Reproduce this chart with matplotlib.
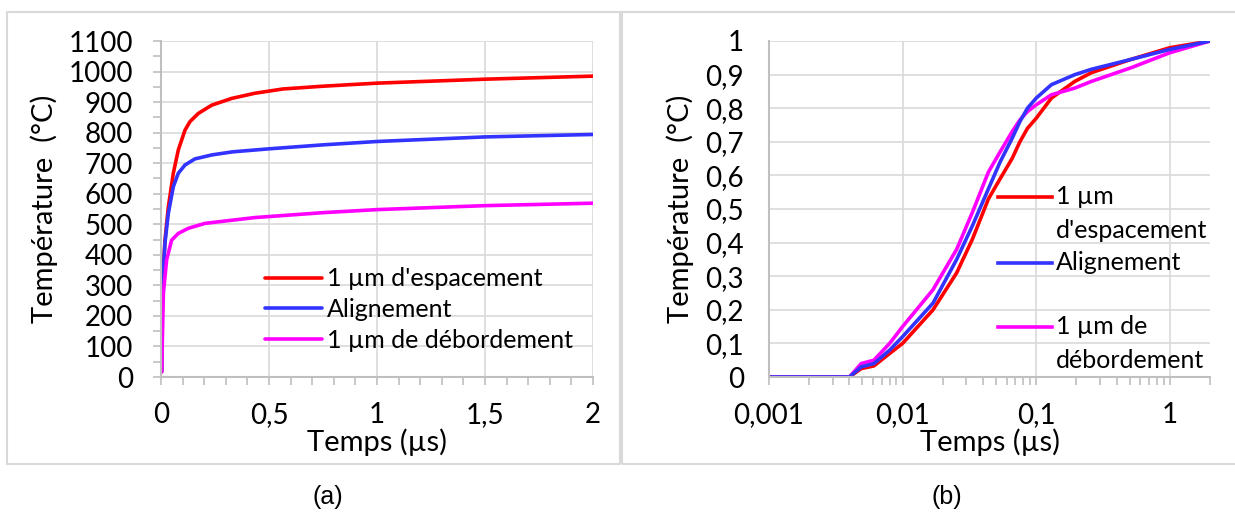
import matplotlib
matplotlib.use("Agg")
import matplotlib.pyplot as plt
from matplotlib.ticker import FuncFormatter, MultipleLocator, LogLocator, FixedLocator
from matplotlib.patches import Rectangle
from matplotlib.lines import Line2D

plt.rcParams['font.family'] = ['Lato', 'DejaVu Sans']

# ---- data (a): linear time (µs), temperature (degC) ----
t_red_a = [0.003, 0.006, 0.0185, 0.034, 0.057, 0.08, 0.111, 0.134, 0.173, 0.235, 0.327, 0.435,
           0.565, 0.75, 1.0, 1.5, 2.0]
red_a = [17, 296, 448, 557, 667, 743, 808, 836, 863, 890, 912, 929, 943, 952, 962, 975, 985]
t_blue_a = [0.003, 0.006, 0.0185, 0.034, 0.057, 0.08, 0.111, 0.157, 0.235, 0.33, 0.5, 0.75, 1.0, 1.5, 2.0]
blue_a = [17, 290, 440, 536, 623, 667, 694, 714, 727, 737, 747, 760, 771, 786, 794]
t_mag_a = [0.003, 0.011, 0.026, 0.049, 0.08, 0.127, 0.204, 0.435, 0.75, 1.0, 1.5, 2.0]
mag_a = [17, 274, 383, 448, 470, 487, 503, 522, 538, 548, 561, 569]

# ---- data (b): log time (µs), normalised temperature ----
t_b = [0.001, 0.004, 0.0049, 0.0061, 0.008, 0.01, 0.0169, 0.0254, 0.0333, 0.0439, 0.0537,
       0.066, 0.0755, 0.086, 0.1, 0.13, 0.195, 0.26, 0.51, 1.0, 2.0]
red_b = [0, 0, 0.025, 0.033, 0.07, 0.10, 0.20, 0.31, 0.41, 0.53, 0.59,
         0.65, 0.70, 0.74, 0.77, 0.83, 0.88, 0.906, 0.945, 0.98, 1.0]
blue_b = [0, 0, 0.03, 0.04, 0.08, 0.12, 0.22, 0.35, 0.45, 0.56, 0.64,
          0.71, 0.76, 0.80, 0.83, 0.87, 0.90, 0.916, 0.945, 0.975, 1.0]
mag_b = [0, 0, 0.04, 0.05, 0.10, 0.15, 0.26, 0.38, 0.49, 0.61, 0.67,
         0.73, 0.765, 0.79, 0.81, 0.84, 0.86, 0.88, 0.92, 0.965, 1.0]

labels = ["1 µm d'espacement", "Alignement", "1 µm de débordement"]
colors = ['#ff0000', '#3333ff', '#ff00ff']

W, H = 1235, 520
fig = plt.figure(figsize=(W / 100, H / 100), dpi=100)


def fx(px):
    return px / W


def fy(py):
    return 1 - py / H


# panel frames
for x0, x1 in [(7, 620), (622, 1240)]:
    fig.patches.append(Rectangle((fx(x0), fy(464)), fx(x1) - fx(x0), fy(12) - fy(464),
                                 transform=fig.transFigure, fill=False,
                                 edgecolor='#d9d9d9', lw=1.5))

grid_c = '#d9d9d9'
spine_c = '#bfbfbf'
comma = FuncFormatter(lambda v, p: ('%g' % v).replace('.', ','))


def style_axes(ax):
    for s in ax.spines.values():
        s.set_visible(False)
    for side in ('left', 'bottom'):
        ax.spines[side].set_visible(True)
        ax.spines[side].set_color(spine_c)
        ax.spines[side].set_linewidth(1.5)
    ax.grid(True, which='major', color=grid_c, lw=1.2)
    ax.set_axisbelow(True)
    ax.tick_params(which='both', colors=spine_c, labelcolor='black', labelsize=20,
                   width=1.2, direction='out', length=6)
    ax.tick_params(axis='x', pad=12)
    ax.tick_params(axis='y', pad=14)


# ---- (a) ----
ax1 = fig.add_axes([fx(161), fy(377), fx(593) - fx(161), fy(41) - fy(377)])
for t, y, c, l in zip([t_red_a, t_blue_a, t_mag_a], [red_a, blue_a, mag_a], colors, labels):
    ax1.plot(t, y, color=c, lw=2.6, label=l, solid_capstyle='round', solid_joinstyle='round')
ax1.set_xlim(0, 2)
ax1.set_ylim(0, 1100)
ax1.xaxis.set_major_locator(MultipleLocator(0.5))
ax1.xaxis.set_minor_locator(MultipleLocator(0.1))
ax1.yaxis.set_major_locator(MultipleLocator(100))
ax1.yaxis.set_minor_locator(MultipleLocator(50))
ax1.xaxis.set_major_formatter(comma)
style_axes(ax1)
ax1.set_xlabel('Temps (µs)', fontsize=21, labelpad=0)
ax1.set_ylabel('Température  (°C)', fontsize=21, labelpad=8)
ax1.legend(loc='lower left', bbox_to_anchor=(fx(252), fy(364)), bbox_transform=fig.transFigure,
           frameon=False, fontsize=18, handlelength=2.3, handletextpad=0.2,
           labelspacing=0.3, borderpad=0)

# ---- (b) ----
ax2 = fig.add_axes([fx(769), fy(377), fx(1210) - fx(769), fy(41) - fy(377)])
# blue drawn last over the flat part
for y, c in zip([red_b, mag_b, blue_b], [colors[0], colors[2], colors[1]]):
    ax2.plot(t_b, y, color=c, lw=2.6, solid_capstyle='round', solid_joinstyle='round')
ax2.set_xscale('log')
ax2.set_xlim(0.001, 2)
ax2.set_ylim(0, 1)
ax2.xaxis.set_major_locator(FixedLocator([0.001, 0.01, 0.1, 1]))
ax2.xaxis.set_minor_locator(LogLocator(base=10, subs=range(2, 10), numticks=20))
ax2.xaxis.set_major_formatter(comma)
ax2.xaxis.set_minor_formatter(FuncFormatter(lambda v, p: ''))
ax2.yaxis.set_major_locator(MultipleLocator(0.1))
ax2.yaxis.set_major_formatter(comma)
style_axes(ax2)
ax2.tick_params(axis='y', length=0, pad=18)
ax2.set_xlabel('Temps (µs)', fontsize=21, labelpad=0)
ax2.set_ylabel('Température  (°C)', fontsize=21, labelpad=8)

# legend of (b), Excel style with wrapped entries
leg_items = [(colors[0], ["1 µm", "d'espacement"], 197),
             (colors[1], ["Alignement"], 263),
             (colors[2], ["1 µm de", "débordement"], 327)]
for c, lines, py in leg_items:
    fig.add_artist(Line2D([fx(998), fx(1052)], [fy(py), fy(py)], color=c, lw=2.6,
                          transform=fig.transFigure))
    for i, s in enumerate(lines):
        fig.text(fx(1056), fy(py + 34 * i), s, fontsize=18, va='center', ha='left')

fig.text(fx(328), fy(497), '(a)', fontsize=18, ha='center', va='center',
         family='Liberation Sans')
fig.text(fx(947), fy(497), '(b)', fontsize=18, ha='center', va='center',
         family='Liberation Sans')

fig.savefig('out.png', dpi=100)
